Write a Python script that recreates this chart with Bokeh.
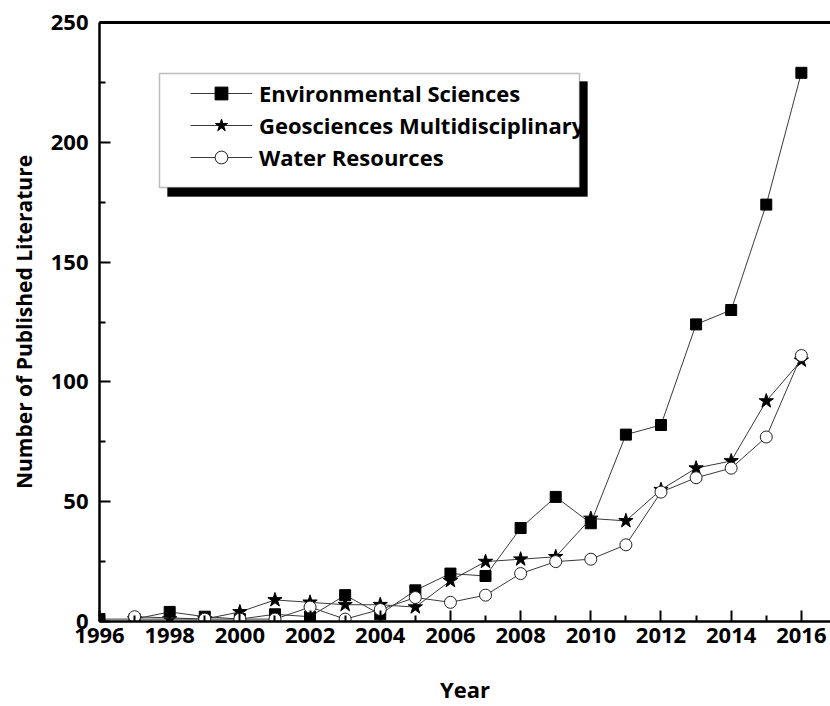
from bokeh.plotting import figure
from bokeh.models import (Range1d, FixedTicker, LinearAxis, Legend, LegendItem,
                          BoxAnnotation)
from bokeh.embed import file_html
from bokeh.resources import INLINE

# Publications per year in three Web of Science categories
years_env = list(range(1996, 2017))
env_sciences = [1, 1, 4, 2, 1, 3, 2, 11, 3, 13, 20, 19, 39, 52, 41, 78, 82, 124, 130, 174, 229]

years_geo = list(range(1997, 2017))
geo_multi = [1, 1, 1, 4, 9, 8, 7, 7, 6, 17, 25, 26, 27, 43, 42, 55, 64, 67, 92, 109]

years_water = [1997] + list(range(1999, 2017))
water_res = [2, 1, 1, 1, 6, 1, 5, 10, 8, 11, 20, 25, 26, 32, 54, 60, 64, 77, 111]

series_names = ["Environmental Sciences", "Geosciences Multidisciplinary", "Water Resources"]

x_major = list(range(1996, 2017, 2))
x_minor = list(range(1997, 2017, 2))
y_major = [0, 50, 100, 150, 200, 250]
y_minor = [25, 75, 125, 175, 225]

FONT = "Open Sans"
LINE_COLOR = "#3a3a3a"

p = figure(width=830, height=706, output_backend="svg", toolbar_location=None,
           x_range=Range1d(1996, 2016.83), y_range=Range1d(0, 250),
           min_border_left=99, min_border_right=0, min_border_top=22,
           min_border_bottom=84, x_axis_label="Year",
           y_axis_label="Number of Published Literature")
p.outline_line_color = None
p.grid.visible = False
p.background_fill_color = "white"
p.border_fill_color = "white"

# Axes: ticks pointing into the plot area
for ax in (p.xaxis[0], p.yaxis[0]):
    ax.axis_line_width = 2.5
    ax.major_tick_in = 11
    ax.major_tick_out = 0
    ax.minor_tick_in = 6
    ax.minor_tick_out = 0
    ax.major_tick_line_width = 2
    ax.minor_tick_line_width = 2
    ax.major_label_text_font = FONT
    ax.major_label_text_font_style = "bold"
    ax.major_label_text_font_size = "22px"
    ax.major_label_text_color = "black"
    ax.axis_label_text_font = FONT
    ax.axis_label_text_font_style = "bold"
    ax.axis_label_text_color = "black"

p.xaxis[0].ticker = FixedTicker(ticks=x_major, minor_ticks=x_minor)
p.yaxis[0].ticker = FixedTicker(ticks=y_major, minor_ticks=y_minor)
p.xaxis[0].major_label_standoff = 6
p.xaxis[0].axis_label_standoff = 28
p.xaxis[0].axis_label_text_font_size = "22px"
p.yaxis[0].major_label_standoff = 11
p.yaxis[0].axis_label_standoff = 10
p.yaxis[0].axis_label_text_font_size = "21px"

# Top border line of the plot box
top = LinearAxis(ticker=FixedTicker(ticks=[]), axis_line_width=3,
                 major_tick_in=0, major_tick_out=0,
                 minor_tick_in=0, minor_tick_out=0)
p.add_layout(top, "above")

# Series
l_env = p.line(years_env, env_sciences, line_color=LINE_COLOR, line_width=1)
s_env = p.scatter(years_env, env_sciences, marker="square", size=11,
                  fill_color="black", line_color="black")
l_geo = p.line(years_geo, geo_multi, line_color=LINE_COLOR, line_width=1)
s_geo = p.scatter(years_geo, geo_multi, marker="star", size=15,
                  fill_color="black", line_color="black")
l_wat = p.line(years_water, water_res, line_color=LINE_COLOR, line_width=1)
s_wat = p.scatter(years_water, water_res, marker="circle", size=12,
                  fill_color="white", line_color="#222222", line_width=1)

# Legend frame with a drop shadow
shadow = BoxAnnotation(left=167, right=587, top=81, bottom=196,
                       left_units="canvas", right_units="canvas",
                       top_units="canvas", bottom_units="canvas",
                       fill_color="black", fill_alpha=1, line_color="black")
frame = BoxAnnotation(left=159, right=579, top=73, bottom=187,
                      left_units="canvas", right_units="canvas",
                      top_units="canvas", bottom_units="canvas",
                      fill_color="white", fill_alpha=1,
                      line_color="#222222", line_width=1.5)
p.add_layout(shadow)
p.add_layout(frame)

legend = Legend(items=[
    LegendItem(label=series_names[0], renderers=[l_env, s_env]),
    LegendItem(label=series_names[1], renderers=[l_geo, s_geo]),
    LegendItem(label=series_names[2], renderers=[l_wat, s_wat]),
], location=(91, 448))
legend.label_text_font = FONT
legend.label_text_font_style = "bold"
legend.label_text_font_size = "22px"
legend.label_text_color = "black"
legend.glyph_width = 62
legend.glyph_height = 32
legend.label_height = 32
legend.label_standoff = 7
legend.spacing = 0
legend.padding = 0
legend.margin = 0
legend.background_fill_alpha = 0
legend.border_line_alpha = 0
p.add_layout(legend)

open("out.html", "w").write(file_html(p, INLINE))
